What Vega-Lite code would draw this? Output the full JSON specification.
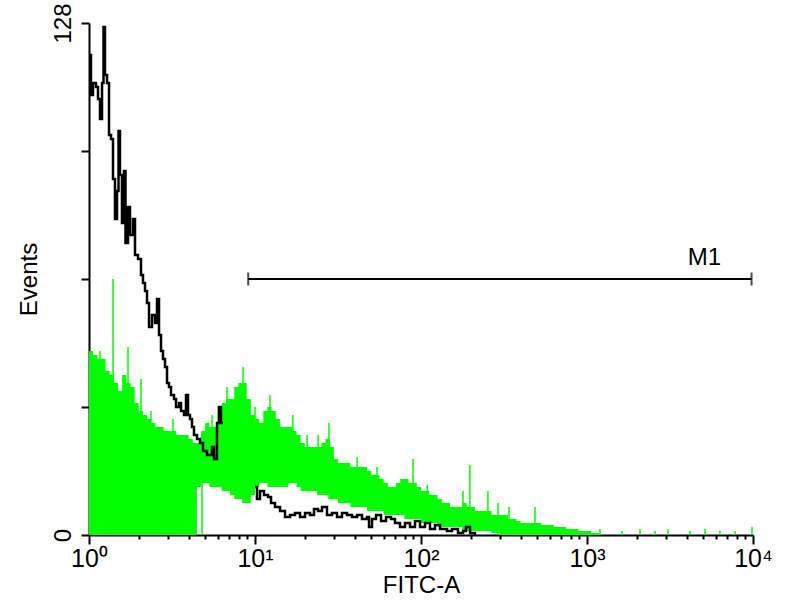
{
  "$schema": "https://vega.github.io/schema/vega-lite/v6.json",
  "width": 664,
  "height": 512,
  "autosize": "none",
  "padding": {"left": 89, "top": 23, "right": 47, "bottom": 65},
  "background": "white",
  "datasets": {
    "green": [
      {"fitc": 1, "lo": 0, "hi": 46}, {"fitc": 1.059, "lo": 0, "hi": 45}, {"fitc": 1.122, "lo": 0, "hi": 44},
      {"fitc": 1.189, "lo": 0, "hi": 44}, {"fitc": 1.259, "lo": 0, "hi": 41}, {"fitc": 1.334, "lo": 0, "hi": 40},
      {"fitc": 1.413, "lo": 0, "hi": 38}, {"fitc": 1.496, "lo": 0, "hi": 36}, {"fitc": 1.585, "lo": 0, "hi": 40},
      {"fitc": 1.679, "lo": 0, "hi": 38}, {"fitc": 1.778, "lo": 0, "hi": 37}, {"fitc": 1.884, "lo": 0, "hi": 33},
      {"fitc": 1.995, "lo": 0, "hi": 31}, {"fitc": 2.113, "lo": 0, "hi": 30}, {"fitc": 2.239, "lo": 0, "hi": 29},
      {"fitc": 2.371, "lo": 0, "hi": 28}, {"fitc": 2.512, "lo": 0, "hi": 27}, {"fitc": 2.661, "lo": 0, "hi": 27},
      {"fitc": 2.818, "lo": 0, "hi": 26}, {"fitc": 2.985, "lo": 0, "hi": 26}, {"fitc": 3.162, "lo": 0, "hi": 26},
      {"fitc": 3.35, "lo": 0, "hi": 25}, {"fitc": 3.548, "lo": 0, "hi": 25}, {"fitc": 3.758, "lo": 0, "hi": 25},
      {"fitc": 3.981, "lo": 0, "hi": 24}, {"fitc": 4.217, "lo": 0, "hi": 23}, {"fitc": 4.467, "lo": 12, "hi": 23},
      {"fitc": 4.732, "lo": 13, "hi": 26}, {"fitc": 5.012, "lo": 13, "hi": 28}, {"fitc": 5.309, "lo": 12, "hi": 27},
      {"fitc": 5.623, "lo": 12, "hi": 27}, {"fitc": 5.957, "lo": 12, "hi": 32}, {"fitc": 6.31, "lo": 11, "hi": 33},
      {"fitc": 6.683, "lo": 11, "hi": 34}, {"fitc": 7.079, "lo": 10, "hi": 34}, {"fitc": 7.499, "lo": 9, "hi": 37},
      {"fitc": 7.943, "lo": 9, "hi": 38}, {"fitc": 8.414, "lo": 8, "hi": 38}, {"fitc": 8.913, "lo": 8, "hi": 34},
      {"fitc": 9.441, "lo": 10, "hi": 30}, {"fitc": 10, "lo": 12, "hi": 29}, {"fitc": 10.59, "lo": 13, "hi": 28},
      {"fitc": 11.22, "lo": 13, "hi": 31}, {"fitc": 11.89, "lo": 12, "hi": 32}, {"fitc": 12.59, "lo": 12, "hi": 31},
      {"fitc": 13.34, "lo": 12, "hi": 29}, {"fitc": 14.13, "lo": 12, "hi": 27}, {"fitc": 14.96, "lo": 12, "hi": 27},
      {"fitc": 15.85, "lo": 13, "hi": 27}, {"fitc": 16.79, "lo": 13, "hi": 26}, {"fitc": 17.78, "lo": 12, "hi": 25},
      {"fitc": 18.84, "lo": 11, "hi": 23}, {"fitc": 19.95, "lo": 11, "hi": 22}, {"fitc": 21.13, "lo": 11, "hi": 22},
      {"fitc": 22.39, "lo": 11, "hi": 22}, {"fitc": 23.71, "lo": 10, "hi": 22}, {"fitc": 25.12, "lo": 10, "hi": 23},
      {"fitc": 26.61, "lo": 10, "hi": 24}, {"fitc": 28.18, "lo": 9, "hi": 22}, {"fitc": 29.85, "lo": 9, "hi": 19},
      {"fitc": 31.62, "lo": 8, "hi": 18}, {"fitc": 33.5, "lo": 8, "hi": 18}, {"fitc": 35.48, "lo": 8, "hi": 18},
      {"fitc": 37.58, "lo": 7, "hi": 17}, {"fitc": 39.81, "lo": 7, "hi": 17}, {"fitc": 42.17, "lo": 7, "hi": 17},
      {"fitc": 44.67, "lo": 7, "hi": 17}, {"fitc": 47.32, "lo": 6, "hi": 16}, {"fitc": 50.12, "lo": 6, "hi": 15},
      {"fitc": 53.09, "lo": 6, "hi": 15}, {"fitc": 56.23, "lo": 6, "hi": 14}, {"fitc": 59.57, "lo": 5, "hi": 13},
      {"fitc": 63.1, "lo": 5, "hi": 12}, {"fitc": 66.83, "lo": 5, "hi": 12}, {"fitc": 70.79, "lo": 5, "hi": 13},
      {"fitc": 74.99, "lo": 5, "hi": 14}, {"fitc": 79.43, "lo": 4, "hi": 14}, {"fitc": 84.14, "lo": 4, "hi": 13},
      {"fitc": 89.13, "lo": 4, "hi": 13}, {"fitc": 94.41, "lo": 4, "hi": 12}, {"fitc": 100, "lo": 3, "hi": 11},
      {"fitc": 105.9, "lo": 3, "hi": 11}, {"fitc": 112.2, "lo": 3, "hi": 10}, {"fitc": 118.9, "lo": 3, "hi": 10},
      {"fitc": 125.9, "lo": 2, "hi": 9}, {"fitc": 133.4, "lo": 2, "hi": 8}, {"fitc": 141.3, "lo": 2, "hi": 8},
      {"fitc": 149.6, "lo": 2, "hi": 7}, {"fitc": 158.5, "lo": 2, "hi": 7}, {"fitc": 167.9, "lo": 2, "hi": 7},
      {"fitc": 177.8, "lo": 1, "hi": 8}, {"fitc": 188.4, "lo": 1, "hi": 7}, {"fitc": 199.5, "lo": 1, "hi": 7},
      {"fitc": 211.3, "lo": 1, "hi": 6}, {"fitc": 223.9, "lo": 1, "hi": 6}, {"fitc": 237.1, "lo": 1, "hi": 6},
      {"fitc": 251.2, "lo": 1, "hi": 6}, {"fitc": 266.1, "lo": 0.5, "hi": 5}, {"fitc": 281.8, "lo": 0.5, "hi": 5},
      {"fitc": 298.5, "lo": 0, "hi": 5}, {"fitc": 316.2, "lo": 0, "hi": 5}, {"fitc": 335, "lo": 0, "hi": 4},
      {"fitc": 354.8, "lo": 0, "hi": 4}, {"fitc": 375.8, "lo": 0, "hi": 3.5}, {"fitc": 398.1, "lo": 0, "hi": 3},
      {"fitc": 421.7, "lo": 0, "hi": 3}, {"fitc": 446.7, "lo": 0, "hi": 3}, {"fitc": 473.2, "lo": 0, "hi": 3},
      {"fitc": 501.2, "lo": 0, "hi": 3}, {"fitc": 530.9, "lo": 0, "hi": 2.5}, {"fitc": 562.3, "lo": 0, "hi": 2.5},
      {"fitc": 595.7, "lo": 0, "hi": 2.5}, {"fitc": 631, "lo": 0, "hi": 2}, {"fitc": 668.3, "lo": 0, "hi": 2},
      {"fitc": 707.9, "lo": 0, "hi": 2}, {"fitc": 749.9, "lo": 0, "hi": 1.5}, {"fitc": 794.3, "lo": 0, "hi": 1.5},
      {"fitc": 841.4, "lo": 0, "hi": 1.5}, {"fitc": 891.3, "lo": 0, "hi": 1}, {"fitc": 944.1, "lo": 0, "hi": 1},
      {"fitc": 1000, "lo": 0, "hi": 1}, {"fitc": 1059, "lo": 0, "hi": 0.5}, {"fitc": 1122, "lo": 0, "hi": 0.5},
      {"fitc": 1189, "lo": 0, "hi": 0}
    ],
    "spikes": [
      {"fitc": 1.165, "lo": 0, "hi": 46}, {"fitc": 1.395, "lo": 0, "hi": 64}, {"fitc": 1.718, "lo": 0, "hi": 47},
      {"fitc": 2.057, "lo": 0, "hi": 39}, {"fitc": 2.361, "lo": 0, "hi": 31}, {"fitc": 3.206, "lo": 0, "hi": 29},
      {"fitc": 4.797, "lo": 0, "hi": 14}, {"fitc": 5.508, "lo": 12, "hi": 30}, {"fitc": 6.78, "lo": 11, "hi": 37},
      {"fitc": 8.47, "lo": 8, "hi": 42}, {"fitc": 10, "lo": 12, "hi": 32}, {"fitc": 12.3, "lo": 12, "hi": 35},
      {"fitc": 16.9, "lo": 13, "hi": 30}, {"fitc": 20.6, "lo": 11, "hi": 25}, {"fitc": 24, "lo": 10, "hi": 25},
      {"fitc": 27.9, "lo": 9, "hi": 28}, {"fitc": 41.2, "lo": 7, "hi": 19.5}, {"fitc": 54.3, "lo": 6, "hi": 17},
      {"fitc": 89.5, "lo": 4, "hi": 19}, {"fitc": 109, "lo": 3, "hi": 12.5}, {"fitc": 179, "lo": 1, "hi": 11},
      {"fitc": 197, "lo": 1, "hi": 17.5}, {"fitc": 253, "lo": 1, "hi": 11}, {"fitc": 291, "lo": 0, "hi": 8},
      {"fitc": 339, "lo": 0, "hi": 7}, {"fitc": 486, "lo": 0, "hi": 7}, {"fitc": 1197, "lo": 0, "hi": 1.5},
      {"fitc": 1625, "lo": 0, "hi": 1}, {"fitc": 2086, "lo": 0, "hi": 1.5}, {"fitc": 2570, "lo": 0, "hi": 1},
      {"fitc": 3076, "lo": 0, "hi": 1.5}, {"fitc": 4170, "lo": 0, "hi": 1}, {"fitc": 5140, "lo": 0, "hi": 1.5},
      {"fitc": 6325, "lo": 0, "hi": 1}, {"fitc": 7800, "lo": 0, "hi": 1}, {"fitc": 9860, "lo": 0, "hi": 2}
    ],
    "black": [
      {"fitc": 1, "events": 120, "seg": "a"}, {"fitc": 1.028, "events": 110, "seg": "a"},
      {"fitc": 1.057, "events": 113, "seg": "a"}, {"fitc": 1.102, "events": 112, "seg": "a"},
      {"fitc": 1.133, "events": 109, "seg": "a"}, {"fitc": 1.165, "events": 104, "seg": "a"},
      {"fitc": 1.198, "events": 113, "seg": "a"}, {"fitc": 1.223, "events": 127, "seg": "a"},
      {"fitc": 1.248, "events": 115, "seg": "a"}, {"fitc": 1.284, "events": 113, "seg": "a"},
      {"fitc": 1.32, "events": 100, "seg": "a"}, {"fitc": 1.357, "events": 99, "seg": "a"},
      {"fitc": 1.395, "events": 89, "seg": "a"}, {"fitc": 1.434, "events": 79, "seg": "a"},
      {"fitc": 1.475, "events": 86, "seg": "a"}, {"fitc": 1.506, "events": 101, "seg": "a"},
      {"fitc": 1.537, "events": 90, "seg": "a"}, {"fitc": 1.58, "events": 78, "seg": "a"},
      {"fitc": 1.625, "events": 91, "seg": "a"}, {"fitc": 1.659, "events": 73, "seg": "a"},
      {"fitc": 1.718, "events": 82, "seg": "a"}, {"fitc": 1.766, "events": 75, "seg": "a"},
      {"fitc": 1.841, "events": 79, "seg": "a"}, {"fitc": 1.893, "events": 70, "seg": "a"},
      {"fitc": 1.973, "events": 69, "seg": "a"}, {"fitc": 2.057, "events": 65, "seg": "a"},
      {"fitc": 2.115, "events": 63, "seg": "a"}, {"fitc": 2.175, "events": 61, "seg": "a"},
      {"fitc": 2.236, "events": 58, "seg": "a"}, {"fitc": 2.299, "events": 52, "seg": "a"},
      {"fitc": 2.396, "events": 55, "seg": "a"}, {"fitc": 2.498, "events": 53, "seg": "a"},
      {"fitc": 2.568, "events": 59, "seg": "a"}, {"fitc": 2.641, "events": 50, "seg": "a"},
      {"fitc": 2.715, "events": 46, "seg": "a"}, {"fitc": 2.791, "events": 44, "seg": "a"},
      {"fitc": 2.87, "events": 42, "seg": "a"}, {"fitc": 2.951, "events": 38, "seg": "a"},
      {"fitc": 3.033, "events": 37, "seg": "a"}, {"fitc": 3.119, "events": 35, "seg": "a"},
      {"fitc": 3.251, "events": 34, "seg": "a"}, {"fitc": 3.343, "events": 32, "seg": "a"},
      {"fitc": 3.485, "events": 33, "seg": "a"}, {"fitc": 3.583, "events": 31, "seg": "a"},
      {"fitc": 3.735, "events": 30, "seg": "a"}, {"fitc": 3.84, "events": 35, "seg": "a"},
      {"fitc": 3.948, "events": 30, "seg": "a"}, {"fitc": 4.059, "events": 29, "seg": "a"},
      {"fitc": 4.173, "events": 27, "seg": "a"}, {"fitc": 4.29, "events": 25, "seg": "a"},
      {"fitc": 4.473, "events": 24, "seg": "a"}, {"fitc": 4.664, "events": 23, "seg": "a"},
      {"fitc": 4.862, "events": 21, "seg": "a"}, {"fitc": 5.138, "events": 20, "seg": "a"},
      {"fitc": 5.508, "events": 22, "seg": "a"}, {"fitc": 5.662, "events": 19, "seg": "a"},
      {"fitc": 5.903, "events": 28, "seg": "a"}, {"fitc": 6.069, "events": 32, "seg": "a"},
      {"fitc": 6.24, "events": 28, "seg": "a"}, {"fitc": 6.415, "events": 28, "seg": "a"},
      {"fitc": 10, "events": 12, "seg": "b"}, {"fitc": 10.28, "events": 9, "seg": "b"},
      {"fitc": 10.72, "events": 11, "seg": "b"}, {"fitc": 11.33, "events": 10, "seg": "b"},
      {"fitc": 11.98, "events": 9.5, "seg": "b"}, {"fitc": 12.49, "events": 8, "seg": "b"},
      {"fitc": 13.2, "events": 7, "seg": "b"}, {"fitc": 14.15, "events": 6, "seg": "b"},
      {"fitc": 15.16, "events": 4.5, "seg": "b"}, {"fitc": 16.25, "events": 5, "seg": "b"},
      {"fitc": 17.42, "events": 5.5, "seg": "b"}, {"fitc": 18.67, "events": 4.5, "seg": "b"},
      {"fitc": 20.01, "events": 5.5, "seg": "b"}, {"fitc": 21.45, "events": 5, "seg": "b"},
      {"fitc": 22.67, "events": 6.5, "seg": "b"}, {"fitc": 23.96, "events": 6, "seg": "b"},
      {"fitc": 25.33, "events": 7, "seg": "b"}, {"fitc": 27.14, "events": 5, "seg": "b"},
      {"fitc": 29.1, "events": 5.5, "seg": "b"}, {"fitc": 31.19, "events": 4.5, "seg": "b"},
      {"fitc": 33.43, "events": 5.5, "seg": "b"}, {"fitc": 35.83, "events": 5, "seg": "b"},
      {"fitc": 38.4, "events": 4.5, "seg": "b"}, {"fitc": 41.17, "events": 5, "seg": "b"},
      {"fitc": 44.12, "events": 4, "seg": "b"}, {"fitc": 47.29, "events": 4.5, "seg": "b"},
      {"fitc": 48.62, "events": 2, "seg": "b"}, {"fitc": 50.69, "events": 4, "seg": "b"},
      {"fitc": 53.58, "events": 5, "seg": "b"}, {"fitc": 57.42, "events": 3.5, "seg": "b"},
      {"fitc": 61.55, "events": 4.5, "seg": "b"}, {"fitc": 65.97, "events": 4, "seg": "b"},
      {"fitc": 69.74, "events": 3, "seg": "b"}, {"fitc": 74.74, "events": 2, "seg": "b"},
      {"fitc": 80.1, "events": 3, "seg": "b"}, {"fitc": 85.85, "events": 2, "seg": "b"},
      {"fitc": 92.02, "events": 3.5, "seg": "b"}, {"fitc": 98.63, "events": 2, "seg": "b"},
      {"fitc": 105.7, "events": 3, "seg": "b"}, {"fitc": 113.3, "events": 1.5, "seg": "b"},
      {"fitc": 121.4, "events": 2.5, "seg": "b"}, {"fitc": 130.2, "events": 1.5, "seg": "b"},
      {"fitc": 143.4, "events": 1, "seg": "b"}, {"fitc": 153.7, "events": 1.5, "seg": "b"},
      {"fitc": 167.1, "events": 0.5, "seg": "b"}, {"fitc": 179.1, "events": 1, "seg": "b"},
      {"fitc": 186.7, "events": 2, "seg": "b"}, {"fitc": 197.4, "events": 0.5, "seg": "b"},
      {"fitc": 211.5, "events": 0, "seg": "b"}
    ],
    "marker": [{"start": 9.1, "end": 9800, "events": 64}],
    "caps": [{"fitc": 9.1, "events": 64}, {"fitc": 9800, "events": 64}],
    "label": [{"fitc": 5105, "events": 69.3, "text": "M1"}]
  },
  "config": {
    "view": {"stroke": null},
    "font": "Liberation Sans",
    "axis": {
      "domainColor": "black",
      "domainWidth": 2,
      "tickColor": "black",
      "grid": false,
      "labelColor": "black",
      "titleColor": "black",
      "labelFont": "Liberation Sans",
      "titleFont": "Liberation Sans",
      "titleFontWeight": "normal"
    }
  },
  "layer": [
    {
      "data": {"name": "green"},
      "mark": {"type": "area", "interpolate": "step-after", "color": "#00ff00", "opacity": 1},
      "encoding": {
        "x": {
          "field": "fitc",
          "type": "quantitative",
          "scale": {"type": "log", "domain": [1, 10000], "nice": false},
          "axis": {
            "title": "FITC-A",
            "titleFontSize": 24,
            "titlePadding": 2,
            "values": [1, 2, 3, 4, 5, 6, 7, 8, 9, 10, 20, 30, 40, 50, 60, 70, 80, 90, 100, 200, 300, 400, 500, 600, 700, 800, 900, 1000, 2000, 3000, 4000, 5000, 6000, 7000, 8000, 9000, 10000],
            "labelExpr": "datum.value == 1 ? '10⁰' : datum.value == 10 ? '10¹' : datum.value == 100 ? '10²' : datum.value == 1000 ? '10³' : datum.value == 10000 ? '10⁴' : ''",
            "labelFontSize": 25,
            "labelFlush": false,
            "labelOverlap": false,
            "labelPadding": 2,
            "tickWidth": 2,
            "tickSize": {"condition": {"test": "indexof([1, 10, 100, 1000, 10000], datum.value) >= 0", "value": 9}, "value": 4}
          }
        },
        "y": {
          "field": "hi",
          "type": "quantitative",
          "scale": {"domain": [0, 128], "nice": false},
          "axis": {
            "title": "Events",
            "titleFontSize": 24,
            "titlePadding": 10,
            "values": [0, 32, 64, 96, 128],
            "labelExpr": "datum.value == 0 || datum.value == 128 ? datum.label : ''",
            "labelAngle": -90,
            "labelFontSize": 24,
            "labelFlush": false,
            "labelPadding": 6,
            "tickSize": 8,
            "tickWidth": 2
          }
        },
        "y2": {"field": "lo"}
      }
    },
    {
      "data": {"name": "spikes"},
      "mark": {"type": "rule", "color": "#00ff00", "strokeWidth": 1.5},
      "encoding": {
        "x": {"field": "fitc", "type": "quantitative"},
        "y": {"field": "lo", "type": "quantitative"},
        "y2": {"field": "hi"}
      }
    },
    {
      "data": {"name": "black"},
      "mark": {"type": "line", "interpolate": "step-after", "color": "black", "strokeWidth": 2.5},
      "encoding": {
        "x": {"field": "fitc", "type": "quantitative"},
        "y": {"field": "events", "type": "quantitative"},
        "detail": {"field": "seg"}
      }
    },
    {
      "data": {"name": "marker"},
      "mark": {"type": "rule", "color": "black", "strokeWidth": 2},
      "encoding": {
        "x": {"field": "start", "type": "quantitative"},
        "x2": {"field": "end"},
        "y": {"field": "events", "type": "quantitative"}
      }
    },
    {
      "data": {"name": "caps"},
      "mark": {"type": "tick", "orient": "vertical", "color": "black", "size": 13, "thickness": 2},
      "encoding": {
        "x": {"field": "fitc", "type": "quantitative"},
        "y": {"field": "events", "type": "quantitative"}
      }
    },
    {
      "data": {"name": "label"},
      "mark": {"type": "text", "fontSize": 24, "font": "Liberation Sans", "align": "center", "baseline": "middle", "color": "black"},
      "encoding": {
        "x": {"field": "fitc", "type": "quantitative"},
        "y": {"field": "events", "type": "quantitative"},
        "text": {"field": "text"}
      }
    }
  ]
}
